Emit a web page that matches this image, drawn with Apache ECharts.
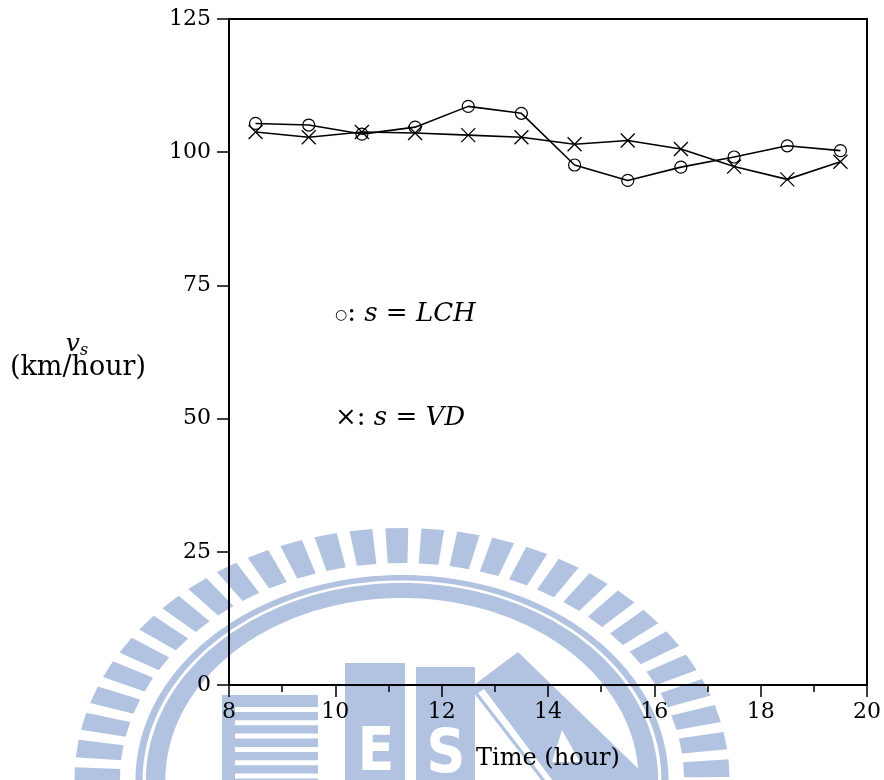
<!DOCTYPE html>
<html>
<head>
<meta charset="utf-8">
<script src="https://cdn.jsdelivr.net/npm/echarts@6/dist/echarts.min.js"></script>
<style>html,body{margin:0;padding:0;background:#fff;}#c{width:884px;height:780px;}</style>
</head>
<body>
<div id="c"></div>
<script>
// ---- data ----
const times = [8.5, 9.5, 10.5, 11.5, 12.5, 13.5, 14.5, 15.5, 16.5, 17.5, 18.5, 19.5];
const lchValues = [105.4, 105.1, 103.4, 104.7, 108.6, 107.3, 97.6, 94.7, 97.2, 99.1, 101.2, 100.3];
const vdValues = [103.8, 102.8, 103.8, 103.6, 103.2, 102.8, 101.5, 102.2, 100.6, 97.3, 94.9, 98.2];
const xTicks = [8, 10, 12, 14, 16, 18, 20];
const yTicks = [0, 25, 50, 75, 100, 125];

const FONT = 'DejaVu Serif';
const WM = '#b1c3e1';

// ---- watermark (decoration, an elliptical logo) ----
function watermark() {
  const els = [];
  const cx = 402, cy = 780, sx = 1.3;
  function pt(r, a) { return [cx + sx * r * Math.sin(a), cy - r * Math.cos(a)]; }
  function ell(r, fill, z) {
    const pts = [];
    for (let i = 0; i < 240; i++) { pts.push(pt(r, i / 240 * Math.PI * 2)); }
    return { type: 'polygon', z: z, shape: { points: pts }, style: { fill: fill } };
  }
  const deg = Math.PI / 180;
  const pitch = 6.3 * deg, half = 2.0 * deg, base = -0.9 * deg;
  for (let k = -15; k <= 15; k++) {
    const a = base + k * pitch;
    els.push({ type: 'polygon', z: -10, shape: { points: [pt(217, a - half), pt(252, a - half), pt(252, a + half), pt(217, a + half)] }, style: { fill: WM } });
  }
  els.push(ell(205, WM, -10));
  els.push(ell(199.5, '#fff', -9));
  els.push(ell(197, WM, -8));
  els.push(ell(182, '#fff', -7));
  // striped square
  els.push({ type: 'rect', z: -6, shape: { x: 222, y: 695, width: 96, height: 90 }, style: { fill: WM } });
  for (let y = 707; y < 785; y += 13.3) {
    els.push({ type: 'rect', z: -5, shape: { x: 235, y: y, width: 83, height: 5 }, style: { fill: '#fff' } });
  }
  // E block
  els.push({ type: 'rect', z: -6, shape: { x: 345, y: 663, width: 60, height: 120 }, style: { fill: WM } });
  els.push({ type: 'text', z: -5, style: { text: 'E', x: 376, y: 754, fill: '#fff', font: 'bold 60px "DejaVu Sans Condensed", "DejaVu Sans"', textAlign: 'center', textVerticalAlign: 'middle' } });
  // S block
  els.push({ type: 'rect', z: -6, shape: { x: 416, y: 667, width: 59, height: 120 }, style: { fill: WM } });
  els.push({ type: 'text', z: -5, style: { text: 'S', x: 446, y: 756, fill: '#fff', font: 'bold 60px "DejaVu Sans Condensed", "DejaVu Sans"', textAlign: 'center', textVerticalAlign: 'middle' } });
  // A-like wedge
  els.push({ type: 'polygon', z: -6, shape: { points: [[470, 688], [518, 652], [655, 785], [545, 785]] }, style: { fill: WM } });
  els.push({ type: 'polygon', z: -5, shape: { points: [[478, 693], [484, 689], [556, 785], [549, 785]] }, style: { fill: '#fff' } });
  els.push({ type: 'polygon', z: -5, shape: { points: [[562, 730], [580, 762], [552, 762]] }, style: { fill: '#fff' } });
  return els;
}

const chart = echarts.init(document.getElementById('c'), null, { renderer: 'canvas' });

const textEls = [
  { type: 'text', z: 10, style: { x: 77, y: 344, text: '{i|v}{sub|s}', textAlign: 'center', textVerticalAlign: 'middle',
      rich: { i: { fontFamily: FONT, fontStyle: 'italic', fontSize: 25, fill: '#000' }, sub: { fontFamily: FONT, fontStyle: 'italic', fontSize: 16, fill: '#000', padding: [14, 0, 0, 0] } } } },
  { type: 'text', z: 10, style: { x: 78, y: 368, text: '(km/hour)', font: '27px "DejaVu Serif"', fill: '#000', textAlign: 'center', textVerticalAlign: 'middle' } },
  { type: 'text', z: 10, style: { x: 335, y: 314, text: '{c|○}{n|: }{i|s}{n| = }{i|LCH}', textVerticalAlign: 'middle',
      rich: { c: { fontFamily: 'DejaVu Sans', fontSize: 14, fill: '#000', padding: [2, 0, 0, 0] }, n: { fontFamily: FONT, fontSize: 26, fill: '#000' }, i: { fontFamily: FONT, fontStyle: 'italic', fontSize: 26, fill: '#000' } } } },
  { type: 'text', z: 10, style: { x: 335, y: 418, text: '{n|×: }{i|s}{n| = }{i|VD}', textVerticalAlign: 'middle',
      rich: { n: { fontFamily: FONT, fontSize: 26, fill: '#000' }, i: { fontFamily: FONT, fontStyle: 'italic', fontSize: 26, fill: '#000' } } } },
  { type: 'text', z: 10, style: { x: 548, y: 759, text: 'Time (hour)', font: '24px "DejaVu Serif"', fill: '#000', textAlign: 'center', textVerticalAlign: 'middle' } }
];

const option = {
  animation: false,
  backgroundColor: '#fff',
  grid: { left: 229, right: 17, top: 19, bottom: 95, show: true, borderColor: '#000', borderWidth: 2, backgroundColor: 'transparent' },
  xAxis: {
    type: 'value', min: xTicks[0], max: xTicks[xTicks.length - 1], interval: 2,
    axisLine: { lineStyle: { color: '#000', width: 2 } },
    axisTick: { inside: false, length: 12, lineStyle: { color: '#000', width: 1.5 } },
    minorTick: { show: true, splitNumber: 2, length: 7, lineStyle: { color: '#000', width: 1.5 } },
    splitLine: { show: false },
    axisLabel: { fontFamily: FONT, fontSize: 22, color: '#000', margin: 16 }
  },
  yAxis: {
    type: 'value', min: yTicks[0], max: yTicks[yTicks.length - 1], interval: 25,
    axisLine: { show: true, lineStyle: { color: '#000', width: 2 } },
    axisTick: { show: true, inside: false, length: 12, lineStyle: { color: '#000', width: 1.5 } },
    splitLine: { show: false },
    axisLabel: { fontFamily: FONT, fontSize: 22, color: '#000', margin: 18 }
  },
  series: [
    {
      name: 'LCH', type: 'line',
      data: times.map(function (t, i) { return [t, lchValues[i]]; }),
      symbol: 'circle', symbolSize: 12,
      lineStyle: { color: '#000', width: 1.6 },
      itemStyle: { color: 'none', borderColor: '#000', borderWidth: 1.2 }
    },
    {
      name: 'VD', type: 'line',
      data: times.map(function (t, i) { return [t, vdValues[i]]; }),
      symbol: 'path://M0 0L10 10M10 0L0 10', symbolSize: 14,
      lineStyle: { color: '#000', width: 1.6 },
      itemStyle: { color: 'none', borderColor: '#000', borderWidth: 1.3 }
    }
  ],
  graphic: { elements: watermark().concat(textEls) }
};
chart.setOption(option);
</script>
</body>
</html>
